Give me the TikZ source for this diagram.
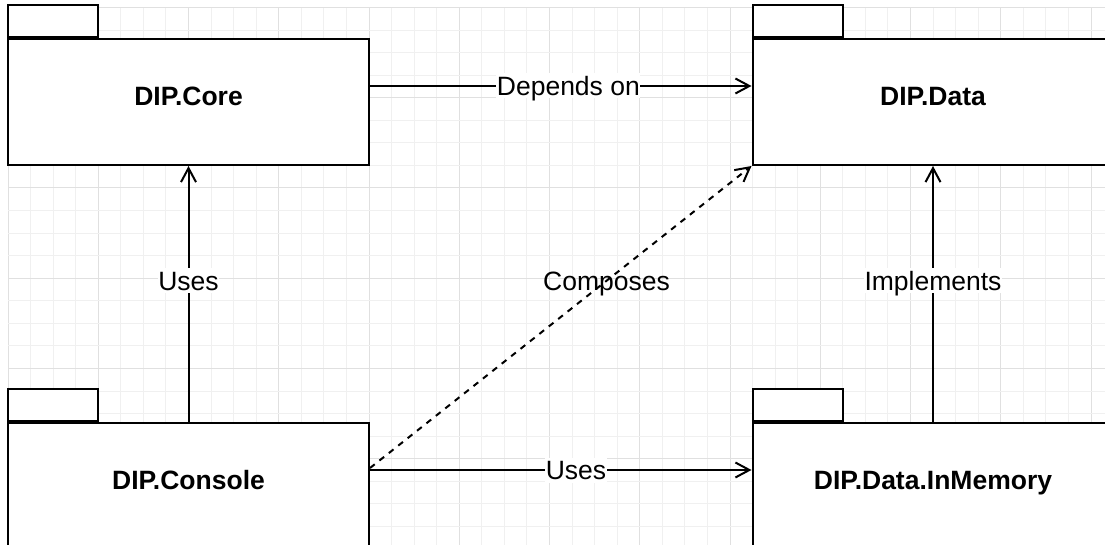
\documentclass[tikz,border=0pt]{standalone}
\usepackage{fontspec}
\setmainfont{Liberation Sans}
\usetikzlibrary{arrows.meta}
\definecolor{gridminor}{HTML}{F0F0F0}
\definecolor{gridmajor}{HTML}{E0E0E0}
\tikzset{
  pkgbox/.style={draw=black, fill=white, line width=2pt, inner sep=0pt,
    minimum width=361pt, minimum height=126pt,
    font=\fontsize{26.5pt}{32pt}\selectfont\bfseries,
    text height=20pt, text depth=12pt},
  pkgtab/.style={draw=black, fill=white, line width=2pt, inner sep=0pt,
    minimum width=90pt, minimum height=32pt, anchor=south west},
  conn/.style={draw=black, line width=2pt,
    -{Straight Barb[length=14pt,width=15pt,line width=2pt]}},
  dashconn/.style={conn, dash pattern=on 6pt off 6pt},
  lbl/.style={fill=white, inner xsep=0.5pt, inner ysep=3pt,
    font=\fontsize{26.5pt}{32pt}\selectfont,
    text height=19pt, text depth=0pt}
}
\begin{document}
\begin{tikzpicture}[x=1pt,y=-1pt]
\useasboundingbox (0,0) rectangle (1105,545);
\fill[white] (0,0) rectangle (1105,545);
% grid
\foreach \k in {0,...,48}{
  \pgfmathsetmacro{\xx}{8+22.5625*\k}
  \pgfmathtruncatemacro{\m}{mod(\k,4)}
  \ifnum\m=0
    \draw[gridmajor, line width=1pt] (\xx,7.5) -- (\xx,545);
  \else
    \draw[gridminor, line width=1pt] (\xx,7.5) -- (\xx,545);
  \fi
}
\foreach \k in {0,...,23}{
  \pgfmathsetmacro{\yy}{7.5+22.5625*\k}
  \pgfmathtruncatemacro{\m}{mod(\k,4)}
  \ifnum\m=0
    \draw[gridmajor, line width=1pt] (8,\yy) -- (1105,\yy);
  \else
    \draw[gridminor, line width=1pt] (8,\yy) -- (1105,\yy);
  \fi
}
% packages
\node[pkgbox] (core) at (188.5,102) {DIP.Core};
\node[pkgtab] (coretab) at (core.north west) {};
\node[pkgbox] (data) at (933,102) {DIP.Data};
\node[pkgtab] (datatab) at (data.north west) {};
\node[pkgbox] (console) at (188.5,485.5) {DIP.Console};
\node[pkgtab] (consoletab) at (console.north west) {};
\node[pkgbox] (mem) at (933,485.5) {DIP.Data.InMemory};
\node[pkgtab] (memtab) at (mem.north west) {};
% connectors
\draw[conn] ([yshift=16pt]core.east) -- ([yshift=16pt]data.west)
  node[lbl, pos=0.52] (l1) {Depends on};
\draw[conn] (console.north) -- (core.south)
  node[lbl, pos=0.55] (l2) {Uses};
\draw[conn] (mem.north) -- (data.south)
  node[lbl, pos=0.55] (l3) {Implements};
\draw[conn] ([yshift=15.5pt]console.east) -- ([yshift=15.5pt]mem.west)
  node[lbl, pos=0.54] (l4) {Uses};
\draw[dashconn] ([yshift=17.5pt]console.east) -- (data.south west)
  node[lbl, fill=none, pos=0.62] (l5) {Composes};
\end{tikzpicture}
\end{document}
